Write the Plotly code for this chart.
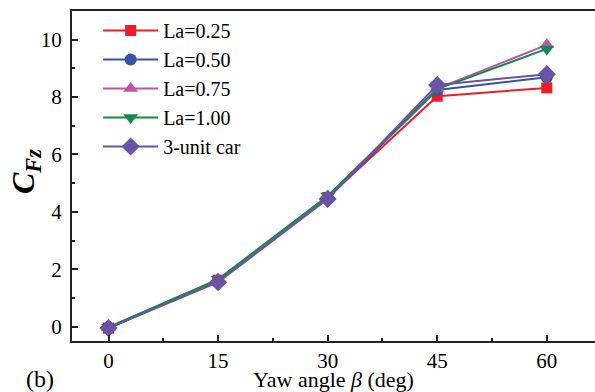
import plotly.graph_objects as go

yaw = [0, 15, 30, 45, 60]
la025 = [-0.05, 1.62, 4.50, 8.03, 8.32]
la050 = [-0.05, 1.60, 4.48, 8.25, 8.69]
la075 = [-0.03, 1.64, 4.53, 8.30, 9.82]
la100 = [-0.02, 1.65, 4.55, 8.28, 9.68]
car3 = [-0.05, 1.55, 4.45, 8.42, 8.80]

names = ["La=0.25", "La=0.50", "La=0.75", "La=1.00", "3-unit car"]
series = [la025, la050, la075, la100, car3]
colors = ["#EE1C25", "#3953A4", "#BC55A8", "#15884A", "#6A52A6"]
symbols = ["square", "circle", "triangle-up", "triangle-down", "diamond"]
sizes = [11, 12, 13, 13, 14]

fig = go.Figure()
for n, s, c, m, sz in zip(names, series, colors, symbols, sizes):
    fig.add_trace(go.Scatter(
        x=yaw, y=s, name=n, mode="lines+markers",
        line=dict(color=c, width=2),
        marker=dict(symbol=m, size=sz, color=c),
    ))

font = "Liberation Serif, Times New Roman, serif"
fig.update_layout(
    width=595, height=392,
    margin=dict(l=72, r=0, t=11, b=51),
    plot_bgcolor="white", paper_bgcolor="white",
    font=dict(family=font, size=21, color="black"),
    showlegend=True,
    legend=dict(x=0.05, y=1.0, xanchor="left", yanchor="top",
                bgcolor="rgba(0,0,0,0)", font=dict(size=20, family=font),
                tracegroupgap=0, itemwidth=55),
    xaxis=dict(
        range=[-5, 66.6], tickvals=[0, 15, 30, 45, 60],
        ticks="inside", ticklen=6, tickwidth=1.5, tickcolor="#222",
        minor=dict(tickvals=[7.5, 22.5, 37.5, 52.5], ticks="inside", ticklen=3, tickwidth=1.5, tickcolor="#222"),
        showline=True, linecolor="#222", linewidth=2, mirror=True,
        showgrid=False, zeroline=False,
        tickfont=dict(size=21, family=font),
        title=dict(text="Yaw angle <i>β</i> (deg)", font=dict(size=22, family=font), standoff=0),
    ),
    yaxis=dict(
        range=[-0.5, 11], tickvals=[0, 2, 4, 6, 8, 10],
        ticks="inside", ticklen=6, tickwidth=1.5, tickcolor="#222",
        minor=dict(tickvals=[1, 3, 5, 7, 9], ticks="inside", ticklen=3, tickwidth=1.5, tickcolor="#222"),
        showline=True, linecolor="#222", linewidth=2, mirror=False,
        showgrid=False, zeroline=False,
        tickfont=dict(size=21, family=font),
        ticklabelstandoff=4,
        title=None,
    ),
)

fig.add_annotation(
    text="<b><i>C</i></b><sub><b><i>Fz</i></b></sub>",
    xref="paper", yref="paper", x=-0.09, y=0.515, xanchor="center", yanchor="middle",
    textangle=-90, showarrow=False, font=dict(size=32, family=font, color="black"),
)
fig.add_annotation(
    text="(b)", xref="paper", yref="paper", x=-0.092, y=-0.115,
    xanchor="left", yanchor="middle", showarrow=False,
    font=dict(size=24, family=font, color="black"),
)

fig.write_html("out.html")
